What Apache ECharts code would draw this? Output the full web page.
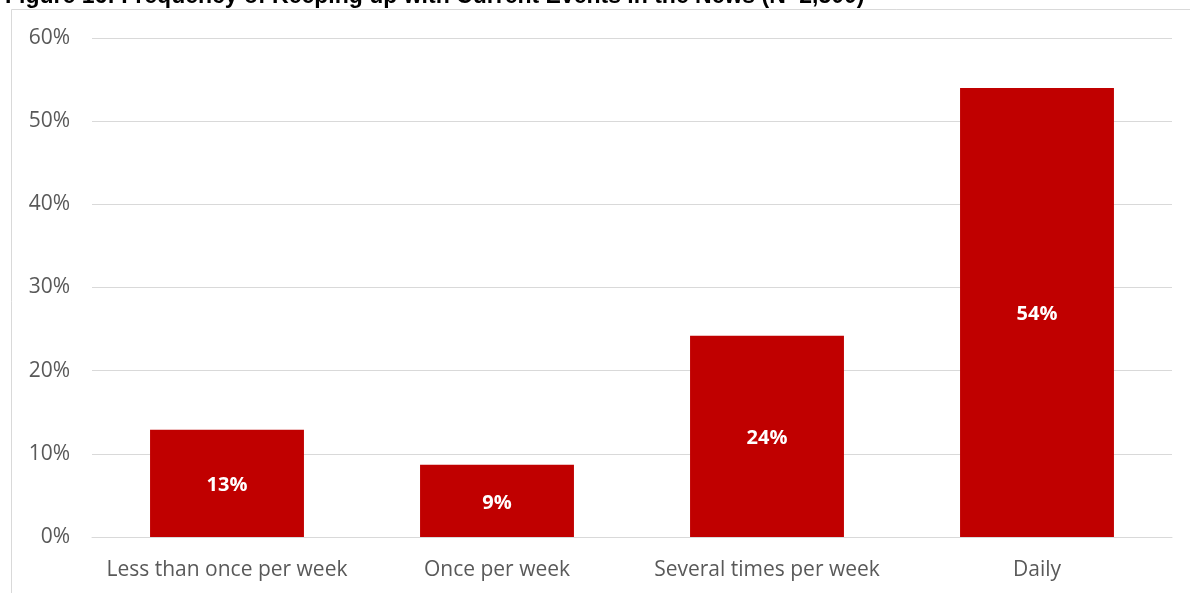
<!DOCTYPE html>
<html>
<head>
<meta charset="utf-8">
<script src="https://cdn.jsdelivr.net/npm/echarts@6/dist/echarts.min.js"></script>
<style>
  html, body { margin: 0; padding: 0; background: #fff; }
  #chart { width: 1190px; height: 593px; }
</style>
</head>
<body>
<div id="chart"></div>
<script>
// Survey answers: how often respondents keep up with current events
const categories = ['Less than once per week', 'Once per week', 'Several times per week', 'Daily'];
const shares = [12.9, 8.7, 24.2, 54.0];
const yTicks = [0, 10, 20, 30, 40, 50, 60];

const chart = echarts.init(document.getElementById('chart'));
chart.setOption({
  animation: false,
  backgroundColor: '#ffffff',
  title: {
    text: 'Figure 16: Frequency of Keeping up with Current Events in the News (N=2,500)',
    left: 0,
    top: -20,
    textStyle: {
      fontFamily: 'Liberation Sans',
      fontWeight: 'bold',
      fontSize: 23,
      color: '#000000'
    }
  },
  graphic: [{
    type: 'rect',
    shape: { x: 11.5, y: 9.5, width: 1300, height: 700 },
    style: { fill: 'none', stroke: '#d9d9d9', lineWidth: 1 },
    silent: true,
    z: -1
  }],
  grid: { left: 92, right: 18, top: 38, bottom: 56 },
  xAxis: {
    type: 'category',
    data: categories,
    axisTick: { show: false },
    axisLine: { lineStyle: { color: '#d9d9d9', width: 1 } },
    axisLabel: {
      interval: 0,
      hideOverlap: false,
      color: '#595959',
      fontFamily: 'Open Sans',
      fontSize: 21,
      margin: 23
    }
  },
  yAxis: {
    type: 'value',
    min: yTicks[0],
    max: yTicks[yTicks.length - 1],
    interval: 10,
    axisLine: { show: false },
    axisTick: { show: false },
    splitLine: { lineStyle: { color: '#d9d9d9', width: 1 } },
    axisLabel: {
      color: '#595959',
      fontFamily: 'Open Sans',
      fontSize: 21,
      margin: 22,
      formatter: v => v + '%'
    }
  },
  series: [{
    type: 'bar',
    data: shares,
    barWidth: '57%',
    itemStyle: { color: '#c00000' },
    label: {
      show: true,
      position: 'inside',
      offset: [0, 2],
      color: '#ffffff',
      fontFamily: 'Open Sans',
      fontWeight: 'bold',
      fontSize: 20,
      formatter: p => Math.round(p.value) + '%'
    }
  }]
});
</script>
</body>
</html>
